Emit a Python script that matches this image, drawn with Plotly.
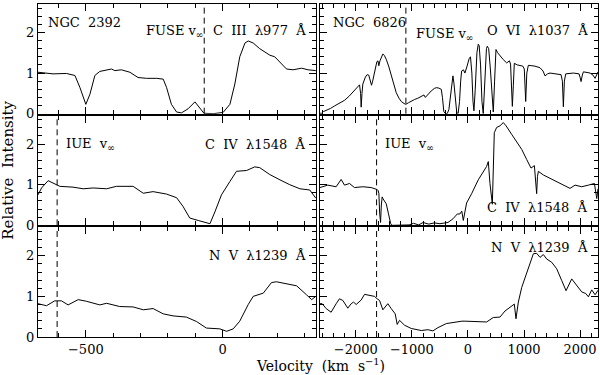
import plotly.graph_objects as go
from plotly.subplots import make_subplots

# NGC 2392 - C III 977 (FUSE)
v_c3_2392 = [-675, -620, -571, -540, -522, -500, -485, -467, -449, -406, -394, -370, -339, -309,
             -278, -241, -217, -205, -187, -168, -150, -126, -101, -86, -68, -34, 2, 27, 45, 63,
             82, 94, 112, 136, 155, 173, 191, 210, 234, 258, 289, 313, 341]
i_c3_2392 = [1.02, 0.98, 0.99, 0.94, 0.65, 0.23, 0.48, 0.94, 1.04, 1.10, 1.06, 1.08, 1.02, 0.89,
             0.87, 0.87, 0.85, 0.65, 0.23, 0.04, 0.02, 0.12, 0.29, 0.15, 0.01, 0.0, 0.03, 0.23, 0.73, 1.40,
             1.74, 1.79, 1.74, 1.60, 1.52, 1.44, 1.40, 1.27, 1.10, 1.08, 1.12, 1.08, 1.06]

# NGC 2392 - C IV 1548 (IUE)
v_c4_2392 = [-675, -662, -638, -620, -595, -547, -510, -473, -424, -388, -327, -290, -254, -205,
             -168, -144, -120, -89, -65, -46, -28, -4, 27, 51, 88, 118, 136, 173, 210, 246, 283,
             319, 341]
i_c4_2392 = [0.75, 0.92, 1.10, 1.04, 0.96, 0.94, 0.90, 0.92, 0.90, 0.96, 0.96, 0.79, 0.83, 0.77,
             0.68, 0.46, 0.18, 0.12, 0.08, 0.04, 0.33, 0.75, 1.08, 1.33, 1.35, 1.44, 1.42, 1.25, 1.12,
             1.00, 0.90, 0.87, 0.67]

# NGC 2392 - N V 1239 (IUE)
v_n5_2392 = [-675, -644, -614, -589, -565, -528, -498, -449, -424, -376, -327, -290, -254, -217,
             -181, -132, -95, -59, -10, 15, 39, 63, 94, 112, 149, 179, 197, 234, 271, 307, 326, 341]
i_n5_2392 = [0.82, 0.77, 0.89, 0.89, 0.79, 0.92, 0.88, 0.79, 0.83, 0.75, 0.74, 0.67, 0.70, 0.57,
             0.52, 0.49, 0.38, 0.22, 0.20, 0.14, 0.20, 0.39, 0.80, 1.00, 1.08, 1.34, 1.36, 1.31, 1.26,
             1.04, 0.92, 1.00]

# NGC 6826 - O VI 1037 (FUSE)
v_o6_6826 = [-2640, -2620, -2580, -2530, -2450, -2380, -2290, -2200, -2120, -2054, -1980, -1934,
             -1915, -1905, -1890, -1875, -1830, -1798, -1770, -1745, -1720, -1700, -1680, -1655,
             -1625, -1605, -1590, -1570, -1540, -1518, -1490, -1458, -1410, -1369, -1320, -1280,
             -1230, -1190, -1140, -1110, -1060, -1012, -950, -893, -830, -785, -760, -740, -700,
             -655, -600, -565, -520, -476, -455, -430, -400, -370, -340, -310, -285, -268, -250,
             -226, -200, -175, -150, -130, -113, -80, -54, -20, 20, 45, 70, 90, 107, 130, 160, 184,
             200, 225, 250, 273, 300, 330, 345, 370, 400, 430, 452, 475, 500, 530, 580, 631, 690,
             740, 760, 775, 792, 810, 827, 880, 929, 980, 1005, 1030, 1050, 1077, 1140, 1196, 1286,
             1340, 1375, 1420, 1464, 1554, 1661, 1685, 1702, 1720, 1744, 1881, 1982, 2000, 2018,
             2040, 2060, 2179, 2230, 2268, 2300, 2320]
i_o6_6826 = [0.02, 0.0, 0.05, 0.08, 0.13, 0.19, 0.26, 0.33, 0.43, 0.53, 0.62, 0.71,
             0.50, 0.16, 0.50, 0.73, 0.90, 0.96, 0.95, 0.85, 0.70, 0.80, 0.95, 1.10,
             1.28, 1.30, 1.18, 1.30, 1.42, 1.47, 1.43, 1.34, 1.15, 0.96, 0.72, 0.52,
             0.38, 0.30, 0.25, 0.23, 0.27, 0.31, 0.35, 0.38, 0.42, 0.46, 0.40, 0.43, 0.50,
             0.56, 0.62, 0.64, 0.63, 0.60, 0.40, 0.05, 0.0, 0.0, 0.10, 0.45, 0.85, 0.93, 0.75,
             0.35, 0.03, 0.0, 0.30, 0.80, 1.05, 1.08, 1.00, 1.15, 1.35, 1.40, 1.00, 0.30, 0.07, 0.60, 1.50, 1.71,
             1.68, 1.20, 0.30, 0.0, 0.90, 1.60, 1.66, 1.60, 1.10, 0.30, 0.04, 0.80, 1.58, 1.50, 1.40, 1.33, 1.25,
             1.30, 1.22, 0.60, 0.18, 0.70, 1.24, 1.20, 1.19, 1.17, 1.10, 0.30, 1.00, 1.19, 1.18, 1.17, 1.13,
             1.05, 0.93, 0.98, 1.00, 0.98, 0.96, 0.80, 0.17, 0.80, 0.98, 1.00, 0.98, 0.90, 0.79,
             0.95, 1.03, 1.00, 0.95, 0.87, 0.98, 1.03]

# NGC 6826 - C IV 1548 (IUE)
v_c4_6826 = [-2640, -2500, -2351, -2262, -2202, -2113, -2024, -1875, -1726, -1619, -1600, -1589,
             -1575, -1559, -1545, -1530, -1518, -1490, -1458, -1420, -1380, -1357, -1300, -1220,
             -1125, -1050, -970, -880, -800, -700, -600, -500, -357, -268, -190, -143, -110, -83,
             -24, 66, 184, 273, 333, 363, 393, 435, 450, 470, 512, 571, 631, 680, 780, 869, 959,
             1048, 1125, 1185, 1205, 1226, 1240, 1256, 1345, 1464, 1583, 1702, 1821, 1911, 2030,
             2149, 2256, 2298, 2320]
i_c4_6826 = [0.93, 0.99, 0.95, 1.13, 0.99, 1.03, 0.93, 0.95, 0.93, 0.88, 0.85, 0.78,
             0.30, 0.07, 0.50, 0.70, 0.66, 0.60, 0.53, 0.30, 0.05, 0.0, 0.0, 0.01,
             0.0, 0.01, 0.05, 0.01, 0.07, 0.03, 0.06, 0.04, 0.07, 0.16, 0.28, 0.28, 0.35, 0.12,
             0.55, 0.78, 1.12, 1.32, 1.45, 1.57, 1.03, 0.52, 1.50, 2.28, 2.41, 2.45, 2.53, 2.45, 2.24, 2.07, 1.87,
             1.62, 1.41, 1.47, 1.10, 0.78, 1.20, 1.33, 1.24, 1.16, 1.07, 0.99, 0.91, 0.99, 0.95,
             0.99, 1.03, 0.66, 0.90]

# NGC 6826 - N V 1239 (IUE)
v_n5_6826 = [-2640, -2600, -2530, -2441, -2351, -2292, -2232, -2143, -2083, -2040, -1994, -1905,
             -1845, -1756, -1667, -1619, -1577, -1518, -1429, -1369, -1298, -1262, -1220, -1131,
             -1012, -833, -714, -625, -536, -387, -238, -107, -54, 125, 333, 452, 571, 661, 780,
             827, 857, 899, 959, 1048, 1125, 1167, 1226, 1286, 1345, 1405, 1494, 1583, 1673, 1750,
             1851, 1941, 2030, 2101, 2149, 2208, 2268, 2320]
i_n5_6826 = [0.82, 0.82, 0.70, 0.61, 0.82, 0.94, 0.90, 0.71, 0.82, 0.86, 0.80, 0.91,
             1.05, 1.02, 1.00, 0.94, 0.90, 0.67, 0.82, 0.70, 0.57, 0.31, 0.41, 0.29,
             0.21, 0.16, 0.18, 0.15, 0.23, 0.33, 0.37, 0.39, 0.39, 0.38, 0.37, 0.48, 0.49, 0.64, 0.75,
             0.81, 0.45, 0.86, 1.22, 1.56, 1.88, 2.05, 2.06, 1.96, 2.03, 1.92, 1.84, 1.68, 1.39, 1.14,
             1.43, 1.27, 1.11, 1.07, 0.99, 1.16, 1.04, 1.15]

v_inf_2392 = [-67, -605, -605]
v_inf_6826 = [-1107, -1630, -1630]
line_labels_2392 = ["C  III  λ977  Å", "C  IV  λ1548  Å", "N  V  λ1239  Å"]
line_labels_6826 = ["O  VI  λ1037  Å", "C  IV  λ1548  Å", "N  V  λ1239  Å"]
vinf_labels = ["FUSE v<sub>∞</sub>", "IUE  v<sub>∞</sub>", None]

FONT = "DejaVu Serif"

fig = make_subplots(rows=3, cols=2, shared_xaxes=True, shared_yaxes=True,
                    horizontal_spacing=0.007, vertical_spacing=0.006)

left = [(v_c3_2392, i_c3_2392), (v_c4_2392, i_c4_2392), (v_n5_2392, i_n5_2392)]
right = [(v_o6_6826, i_o6_6826), (v_c4_6826, i_c4_6826), (v_n5_6826, i_n5_6826)]

for r in range(3):
    for c, (vv, ii) in enumerate([left[r], right[r]]):
        fig.add_trace(go.Scatter(x=vv, y=ii, mode="lines",
                                 line=dict(color="black", width=1)),
                      row=r + 1, col=c + 1)
    fig.add_vline(x=v_inf_2392[r], line=dict(color="black", width=1, dash="6px,4px"),
                  row=r + 1, col=1)
    fig.add_vline(x=v_inf_6826[r], line=dict(color="black", width=1, dash="6px,4px"),
                  row=r + 1, col=2)

axis_common = dict(showline=True, linecolor="black", linewidth=1, mirror="allticks",
                   ticks="inside", ticklen=7, tickcolor="black", tickwidth=1,
                   showgrid=False, zeroline=False,
                   tickfont=dict(family=FONT, size=13, color="black"))

fig.update_xaxes(**axis_common)
fig.update_yaxes(**axis_common)
fig.update_xaxes(range=[-675, 342], dtick=500,
                 minor=dict(dtick=100, ticklen=4, ticks="inside", tickcolor="black"), col=1)
fig.update_xaxes(range=[-2640, 2320], dtick=1000,
                 minor=dict(dtick=200, ticklen=4, ticks="inside", tickcolor="black"), col=2)
fig.update_yaxes(range=[0, 2.7], dtick=1,
                 minor=dict(dtick=0.2, ticklen=4, ticks="inside", tickcolor="black"))

tf = dict(family=FONT, size=13, color="black")
ann = []
# object names
ann.append(dict(text="NGC  2392", xref="x domain", yref="y domain", x=0.03, y=0.83,
                xanchor="left", yanchor="middle", showarrow=False, font=tf))
ann.append(dict(text="NGC  6826", xref="x2 domain", yref="y2 domain", x=0.04, y=0.83,
                xanchor="left", yanchor="middle", showarrow=False, font=tf))
# ion labels
ypos_2392 = [0.76, 0.74, 0.74]
ypos_6826 = [0.76, 0.16, 0.82]
for r in range(3):
    xa = "x" if r == 0 else f"x{2 * r + 1}"
    ya = "y" if r == 0 else f"y{2 * r + 1}"
    xb = f"x{2 * r + 2}"
    yb = f"y{2 * r + 2}"
    ann.append(dict(text=line_labels_2392[r], xref=f"{xa} domain", yref=f"{ya} domain",
                    x=0.97, y=ypos_2392[r], xanchor="right", yanchor="middle",
                    showarrow=False, font=tf))
    ann.append(dict(text=line_labels_6826[r], xref=f"{xb} domain", yref=f"{yb} domain",
                    x=0.97, y=ypos_6826[r], xanchor="right", yanchor="middle",
                    showarrow=False, font=tf))
# v_inf labels
ann.append(dict(text=vinf_labels[0], xref="x domain", yref="y domain", x=0.60, y=0.75,
                xanchor="right", yanchor="middle", showarrow=False, font=tf))
ann.append(dict(text=vinf_labels[0], xref="x2 domain", yref="y2 domain", x=0.34, y=0.72,
                xanchor="left", yanchor="middle", showarrow=False, font=tf))
ann.append(dict(text=vinf_labels[1], xref="x3 domain", yref="y3 domain", x=0.095, y=0.74,
                xanchor="left", yanchor="middle", showarrow=False, font=tf))
ann.append(dict(text=vinf_labels[1], xref="x4 domain", yref="y4 domain", x=0.225, y=0.74,
                xanchor="left", yanchor="middle", showarrow=False, font=tf))
# axis titles
ann.append(dict(text="Velocity  (km  s<sup>−1</sup>)", xref="paper", yref="paper",
                x=0.505, y=-0.083, xanchor="center", yanchor="middle", showarrow=False,
                font=dict(family=FONT, size=14, color="black")))
ann.append(dict(text="Relative  Intensity", xref="paper", yref="paper", x=-0.055, y=0.5,
                xanchor="center", yanchor="middle", textangle=-90, showarrow=False,
                font=dict(family=FONT, size=15, color="black")))

fig.update_layout(width=600, height=375, margin=dict(l=38, r=2, t=4, b=38),
                  paper_bgcolor="white", plot_bgcolor="white", showlegend=False,
                  annotations=ann, font=dict(family=FONT, color="black"))

fig.write_html("out.html", config={"displayModeBar": False},
               post_script="document.body.style.margin='0';")
